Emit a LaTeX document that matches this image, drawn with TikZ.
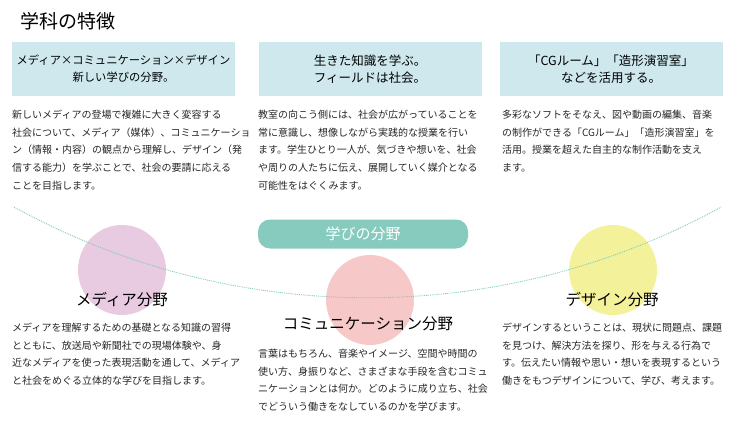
\documentclass[tikz,border=0pt]{standalone}
\usepackage{fontspec}
\usetikzlibrary{shapes.geometric}
\setmainfont{Noto Sans CJK JP}
\begin{document}
\begin{tikzpicture}[x=1pt,y=1pt,
  hdr/.style={fill=hdrc,minimum width=223,minimum height=54,align=center,font=\fontsize{12.5}{17}\selectfont,inner sep=0},
  body/.style={anchor=north west,align=left,inner sep=0,font=\fontsize{10}{17.6}\selectfont,text=black!85},
  field/.style={font=\fontsize{15.5}{18}\selectfont},
  blob/.style={ellipse,minimum width=88,minimum height=90,inner sep=0}]
\definecolor{hdrc}{HTML}{CEE8EE}
\definecolor{pillc}{HTML}{87CBBF}
\definecolor{medc}{HTML}{E8CAE1}
\definecolor{comc}{HTML}{F7C8C8}
\definecolor{desc}{HTML}{F3F29B}
\definecolor{arcc}{HTML}{7FCABF}
\useasboundingbox (0,0) rectangle (730,-425);
\node[anchor=west,font=\fontsize{19}{21}\selectfont] (title) at (17,-21) {学科の特徴};
\node[hdr,font=\fontsize{11.3}{17}\selectfont] (h1) at (123.5,-69) {メディア×コミュニケーション×デザイン\\新しい学びの分野。};
\node[hdr] (h2) at (370,-69) {生きた知識を学ぶ。\\フィールドは社会。};
\node[hdr] (h3) at (611,-69) {「CGルーム」「造形演習室」\\などを活用する。};
\node[body] (t1) at (12,-110) {新しいメディアの登場で複雑に大きく変容する\\社会について、メディア（媒体）、コミュニケーショ\\ン（情報・内容）の観点から理解し、デザイン（発\\信する能力）を学ぶことで、社会の要請に応える\\ことを目指します。};
\node[body] (t2) at (258,-110) {教室の向こう側には、社会が広がっていることを\\常に意識し、想像しながら実践的な授業を行い\\ます。学生ひとり一人が、気づきや想いを、社会\\や周りの人たちに伝え、展開していく媒介となる\\可能性をはぐくみます。};
\node[body] (t3) at (502,-110) {多彩なソフトをそなえ、図や動画の編集、音楽\\の制作ができる「CGルーム」「造形演習室」を\\活用。授業を超えた自主的な制作活動を支え\\ます。};
\node[blob,fill=medc] (b1) at (122,-270) {};
\node[blob,fill=comc] (b2) at (370,-300) {};
\node[blob,fill=desc] (b3) at (613,-270) {};
\draw[arcc,densely dotted,line width=0.9] (14,-207) arc[start angle=241.2,end angle=298.8,radius=734];
\node[fill=pillc,rounded corners=12,minimum width=210,minimum height=29,text=white,font=\fontsize{15}{18}\selectfont] (pill) at (363,-234) {学びの分野};
\node[field] (f1) at (122,-300) {メディア分野};
\node[field] (f2) at (368,-324) {コミュニケーション分野};
\node[field] (f3) at (612,-300) {デザイン分野};
\node[body] (t4) at (12,-323) {メディアを理解するための基礎となる知識の習得\\とともに、放送局や新聞社での現場体験や、身\\近なメディアを使った表現活動を通して、メディア\\と社会をめぐる立体的な学びを目指します。};
\node[body] (t5) at (258,-349) {言葉はもちろん、音楽やイメージ、空間や時間の\\使い方、身振りなど、さまざまな手段を含むコミュ\\ニケーションとは何か。どのように成り立ち、社会\\でどういう働きをなしているのかを学びます。};
\node[body] (t6) at (502,-323) {デザインするということは、現状に問題点、課題\\を見つけ、解決方法を探り、形を与える行為で\\す。伝えたい情報や思い・想いを表現するという\\働きをもつデザインについて、学び、考えます。};
\end{tikzpicture}
\end{document}
